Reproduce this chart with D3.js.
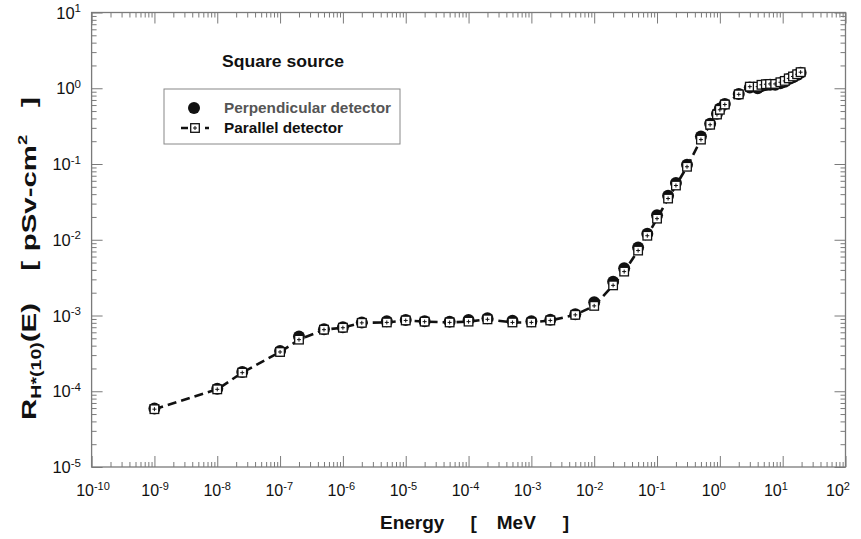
<!DOCTYPE html>
<html>
<head>
<meta charset="utf-8">
<script src="https://cdn.jsdelivr.net/npm/d3@7"></script>
<style>
  html, body { margin: 0; padding: 0; background: #fff; }
  svg { display: block; font-family: "Liberation Sans", Arial, Helvetica, sans-serif; }
</style>
</head>
<body>
<svg id="chart" width="861" height="539"></svg>
<script>
// ---- Data ----
const energy = [1e-9, 1e-8, 2.5e-8, 1e-7, 2e-7, 5e-7, 1e-6, 2e-6, 5e-6, 1e-5, 2e-5, 5e-5, 1e-4, 2e-4, 5e-4, 1e-3, 2e-3, 5e-3,
  1e-2, 2e-2, 3e-2, 5e-2, 7e-2, 0.1, 0.15, 0.2, 0.3, 0.5, 0.7, 0.9, 1.0, 1.2, 2, 3, 4, 4.6, 5.4, 6.3, 7.6, 9.2, 10.8, 12.5, 14.6, 17, 19.3];
const parallelDetector = [5.8e-5, 1.06e-4, 1.76e-4, 3.3e-4, 4.8e-4, 6.5e-4, 6.9e-4, 8.0e-4, 8.1e-4, 8.6e-4, 8.3e-4, 8.1e-4, 8.3e-4, 8.9e-4, 8.1e-4, 8.1e-4, 8.6e-4, 1.02e-3,
  1.34e-3, 2.5e-3, 3.8e-3, 7.2e-3, 1.13e-2, 1.9e-2, 3.5e-2, 5.2e-2, 9.2e-2, 0.21, 0.33, 0.45, 0.52, 0.61, 0.83, 1.05, 1.05, 1.11, 1.13, 1.14, 1.14, 1.2, 1.25, 1.35, 1.43, 1.53, 1.63];
const perpendicularDetector = [5.9e-5, 1.08e-4, 1.8e-4, 3.4e-4, 5.3e-4, 6.6e-4, 7.0e-4, 8.1e-4, 8.4e-4, 8.7e-4, 8.4e-4, 8.3e-4, 8.7e-4, 9.2e-4, 8.5e-4, 8.4e-4, 8.8e-4, 1.04e-3,
  1.5e-3, 2.8e-3, 4.2e-3, 7.9e-3, 1.2e-2, 2.1e-2, 3.8e-2, 5.6e-2, 9.8e-2, 0.23, 0.34, 0.46, 0.54, 0.62, 0.84, 1.02, 1.0, 1.07, 1.1, 1.11, 1.11, 1.16, 1.22, 1.32, 1.4, 1.5, 1.6];
const xTickExponents = [-10, -9, -8, -7, -6, -5, -4, -3, -2, -1, 0, 1, 2];
const yTickExponents = [-5, -4, -3, -2, -1, 0, 1];
const titleText = "Square source";
const legendLabels = ["Perpendicular detector", "Parallel detector"];

// ---- Layout ----
const svg = d3.select("#chart");
const L = 91.6, R = 845.5, T = 12.5, B = 467;
const x = d3.scaleLog().domain([1e-10, 1e2]).range([L, R]);
const y = d3.scaleLog().domain([1e-5, 1e1]).range([B, T]);
const xLabelPos = d3.scaleLog().domain([1e-10, 1e2]).range([93, 838]);
const frameColor = "#7a7a7a";

// minor tick values
const minorX = [], minorY = [];
for (let e = -10; e < 2; e++) for (let m = 2; m <= 9; m++) minorX.push(m * Math.pow(10, e));
for (let e = -5; e < 1; e++) for (let m = 2; m <= 9; m++) minorY.push(m * Math.pow(10, e));
const majorX = xTickExponents.map(e => Math.pow(10, e));
const majorY = yTickExponents.map(e => Math.pow(10, e));

// axes with inward ticks on all sides
function addAxis(axisGen, transform, major, minor) {
  const gMaj = svg.append("g").attr("transform", transform)
    .call(axisGen.tickValues(major).tickSize(-11).tickFormat("").tickSizeOuter(0));
  const gMin = svg.append("g").attr("transform", transform)
    .call(axisGen.tickValues(minor).tickSize(-5).tickFormat("").tickSizeOuter(0));
  [gMaj, gMin].forEach(g => {
    g.select(".domain").remove();
    g.selectAll("line").attr("stroke", frameColor).attr("stroke-width", 1);
  });
}
addAxis(d3.axisBottom(x), `translate(0,${B})`, majorX, minorX);
addAxis(d3.axisTop(x), `translate(0,${T})`, majorX, minorX);
addAxis(d3.axisLeft(y), `translate(${L},0)`, majorY, minorY);
addAxis(d3.axisRight(y), `translate(${R},0)`, majorY, minorY);

// frame
svg.append("rect").attr("x", L).attr("y", T).attr("width", R - L).attr("height", B - T)
  .attr("fill", "none").attr("stroke", frameColor).attr("stroke-width", 1.3);

// x tick labels
const xl = svg.append("g").selectAll("text").data(xTickExponents).join("text")
  .attr("x", d => xLabelPos(Math.pow(10, d)))
  .attr("y", 496)
  .attr("text-anchor", "middle")
  .attr("font-size", 16)
  .attr("fill", "#111");
xl.append("tspan").text("10");
xl.append("tspan").attr("dy", -6.5).attr("font-size", 11).text(d => d < 0 ? "-" + (-d) : String(d));

// y tick labels
const yl = svg.append("g").selectAll("text").data(yTickExponents).join("text")
  .attr("x", 81)
  .attr("y", d => y(Math.pow(10, d)) + 6)
  .attr("text-anchor", "end")
  .attr("font-size", 16.5)
  .attr("fill", "#111");
yl.append("tspan").text("10");
yl.append("tspan").attr("dy", -6.5).attr("font-size", 11.5).text(d => d < 0 ? "-" + (-d) : String(d));

// axis titles
const xt = svg.append("text").attr("x", 380).attr("y", 529)
  .attr("font-size", 19).attr("font-weight", "bold").attr("fill", "#111");
xt.append("tspan").text("Energy");
xt.append("tspan").attr("dx", 26).text("[");
xt.append("tspan").attr("dx", 20).text("MeV");
xt.append("tspan").attr("dx", 27).text("]");

const yt = svg.append("text").attr("transform", "translate(36,420) rotate(-90) scale(1.4,1)")
  .attr("font-size", 21).attr("font-weight", "bold").attr("fill", "#111");
yt.append("tspan").text("R");
yt.append("tspan").attr("dy", 5).attr("font-size", 14).text("H*(10)");
yt.append("tspan").attr("dy", -5).text("(E)");
yt.append("tspan").attr("dx", 23).text("[");
yt.append("tspan").attr("dx", 7).text("pSv-cm");
yt.append("tspan").attr("dy", -9).attr("font-size", 13).text("2");
yt.append("tspan").attr("dy", 9).attr("dx", 20).text("]");

// ---- Data marks ----
const parallelPts = energy.map((e, i) => [e, parallelDetector[i]]);
const perpPts = energy.map((e, i) => [e, perpendicularDetector[i]]);

svg.append("path").datum(parallelPts)
  .attr("d", d3.line().x(d => x(d[0])).y(d => y(d[1])))
  .attr("fill", "none").attr("stroke", "#111").attr("stroke-width", 2.6)
  .attr("stroke-dasharray", "9,5");

svg.append("g").selectAll("circle").data(perpPts).join("circle")
  .attr("cx", d => x(d[0])).attr("cy", d => y(d[1])).attr("r", 6).attr("fill", "#111");

function squareMarker(g, cx, cy) {
  g.append("rect").attr("x", cx - 4.3).attr("y", cy - 4.3).attr("width", 8.6).attr("height", 8.6)
    .attr("fill", "#fff").attr("stroke", "#111").attr("stroke-width", 1.3);
  g.append("path").attr("d", `M${cx - 2},${cy}H${cx + 2}M${cx},${cy - 2}V${cy + 2}`)
    .attr("stroke", "#111").attr("stroke-width", 1);
}
const sq = svg.append("g");
parallelPts.forEach(d => squareMarker(sq, x(d[0]), y(d[1])));

// ---- Title & legend ----
svg.append("text").attr("x", 222).attr("y", 67).attr("font-size", 16).attr("font-weight", "bold")
  .attr("fill", "#111").attr("textLength", 122).attr("lengthAdjust", "spacingAndGlyphs").text(titleText);

svg.append("rect").attr("x", 164).attr("y", 89).attr("width", 236).attr("height", 55)
  .attr("fill", "#fff").attr("stroke", "#888").attr("stroke-width", 1);
svg.append("circle").attr("cx", 194).attr("cy", 108).attr("r", 6).attr("fill", "#111");
svg.append("path").attr("d", "M181,128H209").attr("stroke", "#111").attr("stroke-width", 2.6)
  .attr("stroke-dasharray", "7,5");
squareMarker(svg.append("g"), 195, 128);
svg.append("text").attr("x", 224).attr("y", 113).attr("font-size", 14).attr("font-weight", "bold")
  .attr("fill", "#555").attr("textLength", 167).attr("lengthAdjust", "spacingAndGlyphs").text(legendLabels[0]);
svg.append("text").attr("x", 224).attr("y", 133).attr("font-size", 14).attr("font-weight", "bold")
  .attr("fill", "#111").attr("textLength", 119).attr("lengthAdjust", "spacingAndGlyphs").text(legendLabels[1]);
</script>
</body>
</html>
